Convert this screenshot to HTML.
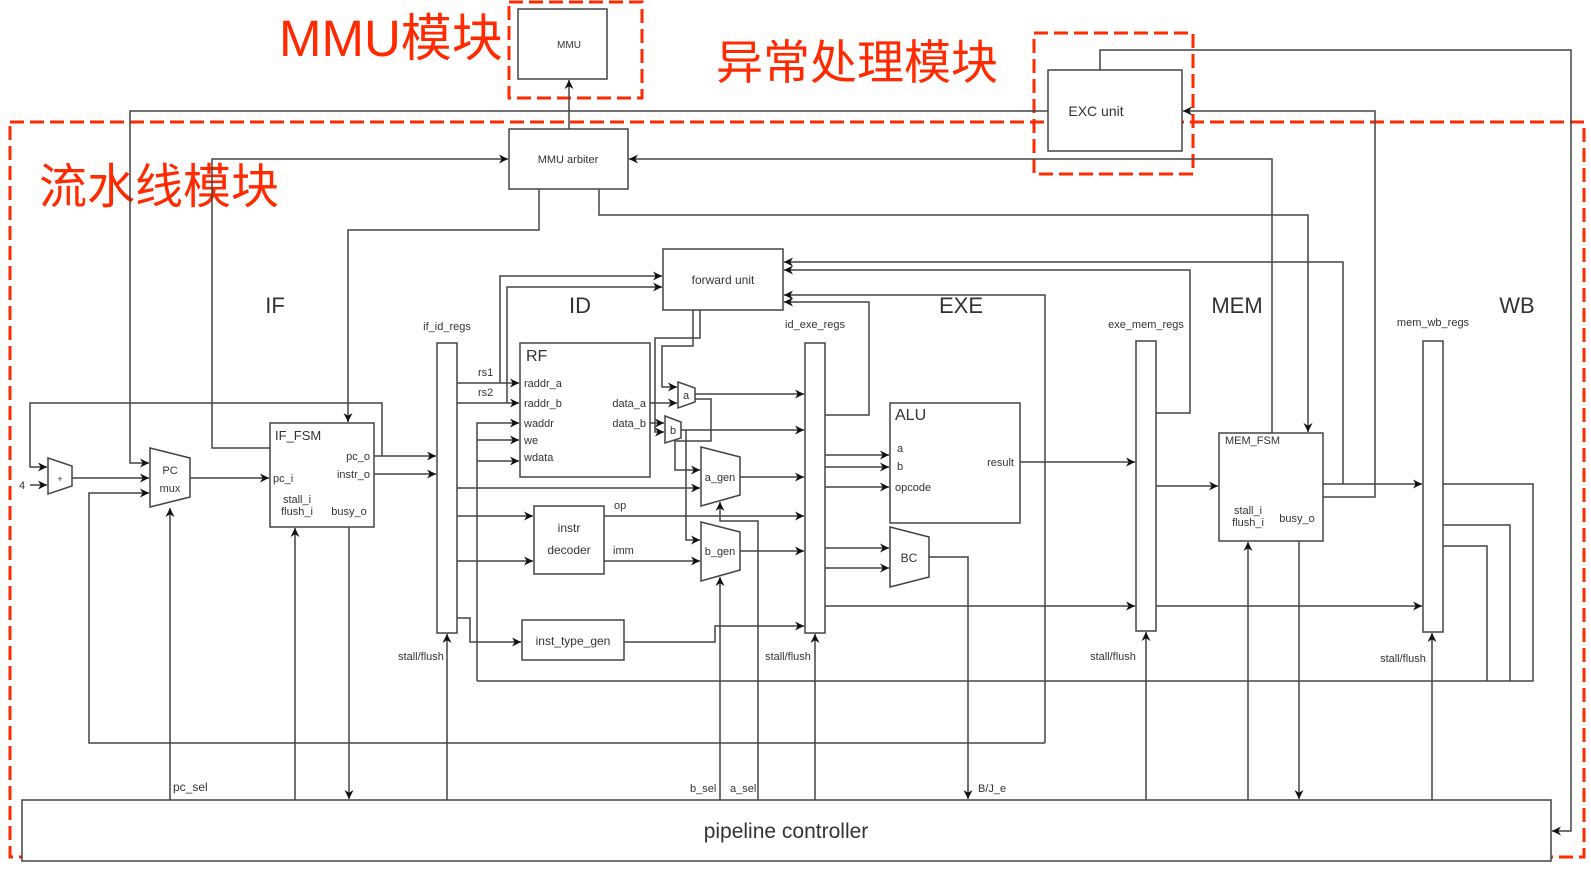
<!DOCTYPE html>
<html><head><meta charset="utf-8"><style>
html,body{margin:0;padding:0;background:#fff;}
svg{display:block;}
text{font-family:"Liberation Sans","Noto Sans CJK SC",sans-serif;fill:#333;}
</style></head><body>
<svg width="1591" height="872" viewBox="0 0 1591 872" xmlns="http://www.w3.org/2000/svg">
<defs>
<marker id="a" viewBox="0 0 10 10" refX="10" refY="5" markerWidth="9" markerHeight="9" markerUnits="userSpaceOnUse" orient="auto"><path d="M0,0 L10,5 L0,10 L3,5 z" fill="#111"/></marker>
</defs>
<rect width="1591" height="872" fill="#fff"/>
<g fill="none" stroke="#ff2a00" stroke-width="3" stroke-dasharray="14,6">
<rect x="10" y="122" width="1574" height="735"/>
<rect x="509" y="2" width="133" height="96"/>
<rect x="1034" y="33" width="159" height="141"/>
</g>
<g font-size="48" style="fill:#ff2a00">
<text x="279" y="56" style="fill:#ff2a00" font-size="51">MMU模块</text>
<text x="716" y="79" style="fill:#ff2a00" font-size="47">异常处理模块</text>
<text x="39" y="203" style="fill:#ff2a00">流水线模块</text>
</g>
<g fill="none" stroke="#444" stroke-width="1.5">
<polyline points="569,129 569,80" marker-end="url(#a)"/>
<polyline points="1048,111 130,111 130,463 149,463" marker-end="url(#a)"/>
<polyline points="1323,497 1375,497 1375,111 1183,111" marker-end="url(#a)"/>
<polyline points="1100,70 1100,50 1571,50 1571,831 1552,831" marker-end="url(#a)"/>
<polyline points="270,448 212,448 212,159 508,159" marker-end="url(#a)"/>
<polyline points="1272,433 1272,159 629,159" marker-end="url(#a)"/>
<polyline points="539,189 539,230 348,230 348,422" marker-end="url(#a)"/>
<polyline points="599,189 599,215 1308,215 1308,432" marker-end="url(#a)"/>
<polyline points="1323,484 1422,484" marker-end="url(#a)"/>
<polyline points="1343,484 1343,262 784,262" marker-end="url(#a)"/>
<polyline points="1156,413 1190,413 1190,270 784,270" marker-end="url(#a)"/>
<polyline points="1045,743 1045,295 784,295" marker-end="url(#a)"/>
<polyline points="1045,743 89,743 89,493 149,493" marker-end="url(#a)"/>
<polyline points="825,415 869,415 869,302 784,302" marker-end="url(#a)"/>
<polyline points="382,456 382,403 30,403 30,467 47,467" marker-end="url(#a)"/>
<polyline points="30,485 47,485" marker-end="url(#a)"/>
<polyline points="72,478 149,478" marker-end="url(#a)"/>
<polyline points="190,478 269,478" marker-end="url(#a)"/>
<polyline points="374,456 436,456" marker-end="url(#a)"/>
<polyline points="374,474 436,474" marker-end="url(#a)"/>
<polyline points="457,383 519,383" marker-end="url(#a)"/>
<polyline points="457,403 519,403" marker-end="url(#a)"/>
<polyline points="500,383 500,276 662,276" marker-end="url(#a)"/>
<polyline points="507,403 507,287 662,287" marker-end="url(#a)"/>
<polyline points="477,681 477,423 519,423" marker-end="url(#a)"/>
<polyline points="477,440 519,440" marker-end="url(#a)"/>
<polyline points="477,461 519,461" marker-end="url(#a)"/>
<polyline points="1443,484 1533,484 1533,681 477,681"/>
<polyline points="1443,525 1510,525 1510,681"/>
<polyline points="1443,546 1487,546 1487,681"/>
<polyline points="650,403 677,403" marker-end="url(#a)"/>
<polyline points="650,423 664,423" marker-end="url(#a)"/>
<polyline points="693,310 693,346 662,346 662,387 677,387" marker-end="url(#a)"/>
<polyline points="700,310 700,338 655,338 655,432 664,432" marker-end="url(#a)"/>
<polyline points="695,394 804,394" marker-end="url(#a)"/>
<polyline points="695,399 711,399 711,441 675,441 675,470 700,470" marker-end="url(#a)"/>
<polyline points="681,430 804,430" marker-end="url(#a)"/>
<polyline points="686,430 686,540 700,540" marker-end="url(#a)"/>
<polyline points="457,488 700,488" marker-end="url(#a)"/>
<polyline points="457,516 533,516" marker-end="url(#a)"/>
<polyline points="457,561 533,561" marker-end="url(#a)"/>
<polyline points="604,516 804,516" marker-end="url(#a)"/>
<polyline points="604,561 700,561" marker-end="url(#a)"/>
<polyline points="740,477 804,477" marker-end="url(#a)"/>
<polyline points="740,551 804,551" marker-end="url(#a)"/>
<polyline points="457,618 470,618 470,642 521,642" marker-end="url(#a)"/>
<polyline points="624,642 715,642 715,626 804,626" marker-end="url(#a)"/>
<polyline points="825,455 889,455" marker-end="url(#a)"/>
<polyline points="825,467 889,467" marker-end="url(#a)"/>
<polyline points="825,487 889,487" marker-end="url(#a)"/>
<polyline points="825,548 889,548" marker-end="url(#a)"/>
<polyline points="825,568 889,568" marker-end="url(#a)"/>
<polyline points="1020,462 1135,462" marker-end="url(#a)"/>
<polyline points="929,557 968,557 968,799" marker-end="url(#a)"/>
<polyline points="825,606 1135,606" marker-end="url(#a)"/>
<polyline points="1156,606 1422,606" marker-end="url(#a)"/>
<polyline points="1156,486 1218,486" marker-end="url(#a)"/>
<polyline points="170,800 170,508" marker-end="url(#a)"/>
<polyline points="295,800 295,528" marker-end="url(#a)"/>
<polyline points="349,527 349,799" marker-end="url(#a)"/>
<polyline points="447,800 447,634" marker-end="url(#a)"/>
<polyline points="720,800 720,577" marker-end="url(#a)"/>
<polyline points="758,800 758,521 720,521 720,502" marker-end="url(#a)"/>
<polyline points="815,800 815,634" marker-end="url(#a)"/>
<polyline points="1146,800 1146,632" marker-end="url(#a)"/>
<polyline points="1248,800 1248,542" marker-end="url(#a)"/>
<polyline points="1299,541 1299,799" marker-end="url(#a)"/>
<polyline points="1432,800 1432,633" marker-end="url(#a)"/>
</g>
<g fill="#fff" stroke="#444" stroke-width="1.5">
<rect x="518" y="9" width="89" height="70"/>
<rect x="509" y="129" width="119" height="60"/>
<rect x="1048" y="70" width="134" height="81"/>
<rect x="663" y="249" width="120" height="61"/>
<rect x="437" y="343" width="20" height="290"/>
<rect x="520" y="343" width="130" height="134"/>
<rect x="534" y="506" width="70" height="68"/>
<rect x="522" y="620" width="102" height="40"/>
<rect x="805" y="343" width="20" height="290"/>
<rect x="890" y="403" width="130" height="120"/>
<rect x="1136" y="341" width="20" height="290"/>
<rect x="1219" y="433" width="104" height="108"/>
<rect x="1423" y="341" width="20" height="291"/>
<rect x="270" y="423" width="104" height="104"/>
<rect x="22" y="800" width="1529" height="61"/>
<polygon points="48,458 72,466 72,486 48,494"/>
<polygon points="150,448 190,458 190,497 150,507"/>
<polygon points="678,382 695,388 695,402 678,408"/>
<polygon points="665,416 681,422 681,438 665,443"/>
<polygon points="701,447 740,457 740,495 701,506"/>
<polygon points="701,522 740,532 740,570 701,581"/>
<polygon points="890,527 929,537 929,577 890,587"/>
</g>
<g font-size="11">
<text x="569" y="48" text-anchor="middle" font-size="10">MMU</text>
<text x="568" y="163" text-anchor="middle">MMU arbiter</text>
<text x="1096" y="116" text-anchor="middle" font-size="14">EXC unit</text>
<text x="723" y="284" text-anchor="middle" font-size="12">forward unit</text>
<text x="60" y="482" text-anchor="middle" font-size="9">+</text>
<text x="22" y="489" text-anchor="middle">4</text>
<text x="170" y="474" text-anchor="middle">PC</text>
<text x="170" y="492" text-anchor="middle">mux</text>
<text x="275" y="440" font-size="13">IF_FSM</text>
<text x="370" y="460" text-anchor="end">pc_o</text>
<text x="370" y="478" text-anchor="end">instr_o</text>
<text x="273" y="482">pc_i</text>
<text x="297" y="503" text-anchor="middle">stall_i</text>
<text x="297" y="515" text-anchor="middle">flush_i</text>
<text x="349" y="515" text-anchor="middle">busy_o</text>
<text x="447" y="330" text-anchor="middle">if_id_regs</text>
<text x="815" y="328" text-anchor="middle">id_exe_regs</text>
<text x="1146" y="328" text-anchor="middle">exe_mem_regs</text>
<text x="1433" y="326" text-anchor="middle">mem_wb_regs</text>
<text x="478" y="376">rs1</text>
<text x="478" y="396">rs2</text>
<text x="526" y="361" font-size="16">RF</text>
<text x="524" y="387">raddr_a</text>
<text x="524" y="407">raddr_b</text>
<text x="524" y="427">waddr</text>
<text x="524" y="444">we</text>
<text x="524" y="461">wdata</text>
<text x="646" y="407" text-anchor="end">data_a</text>
<text x="646" y="427" text-anchor="end">data_b</text>
<text x="686" y="399" text-anchor="middle">a</text>
<text x="673" y="434" text-anchor="middle">b</text>
<text x="720" y="481" text-anchor="middle">a_gen</text>
<text x="720" y="555" text-anchor="middle">b_gen</text>
<text x="569" y="532" text-anchor="middle" font-size="12">instr</text>
<text x="569" y="554" text-anchor="middle" font-size="12">decoder</text>
<text x="614" y="509">op</text>
<text x="613" y="554">imm</text>
<text x="573" y="645" text-anchor="middle" font-size="12">inst_type_gen</text>
<text x="895" y="420" font-size="16">ALU</text>
<text x="897" y="452">a</text>
<text x="897" y="470">b</text>
<text x="895" y="491">opcode</text>
<text x="1014" y="466" text-anchor="end">result</text>
<text x="909" y="562" text-anchor="middle" font-size="12">BC</text>
<text x="1225" y="444">MEM_FSM</text>
<text x="1248" y="514" text-anchor="middle">stall_i</text>
<text x="1248" y="526" text-anchor="middle">flush_i</text>
<text x="1297" y="522" text-anchor="middle">busy_o</text>
<text x="421" y="660" text-anchor="middle">stall/flush</text>
<text x="788" y="660" text-anchor="middle">stall/flush</text>
<text x="1113" y="660" text-anchor="middle">stall/flush</text>
<text x="1403" y="662" text-anchor="middle">stall/flush</text>
<text x="173" y="791" font-size="12">pc_sel</text>
<text x="690" y="792">b_sel</text>
<text x="730" y="792">a_sel</text>
<text x="978" y="792">B/J_e</text>
</g>
<g font-size="22">
<text x="275" y="313" text-anchor="middle">IF</text>
<text x="580" y="313" text-anchor="middle">ID</text>
<text x="961" y="313" text-anchor="middle">EXE</text>
<text x="1237" y="313" text-anchor="middle">MEM</text>
<text x="1517" y="313" text-anchor="middle">WB</text>
</g>
<text x="786" y="838" text-anchor="middle" font-size="21">pipeline controller</text>
</svg>
</body></html>
